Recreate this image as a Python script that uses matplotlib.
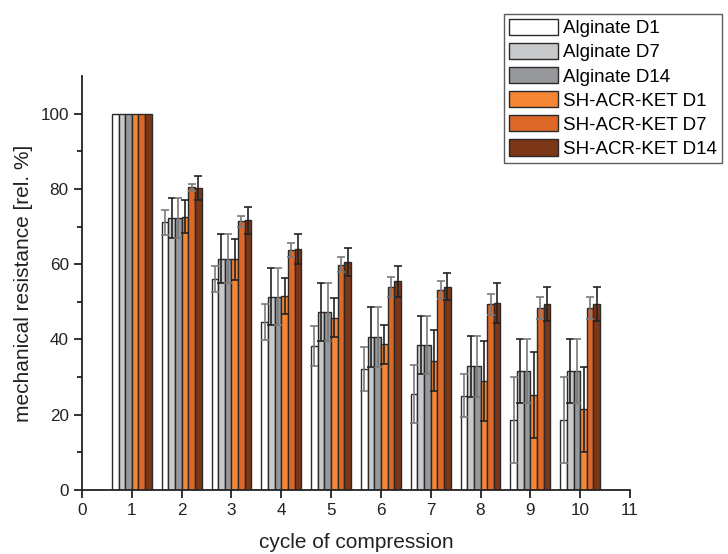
import numpy as np
import matplotlib
matplotlib.use("Agg")
import matplotlib.pyplot as plt

plt.rcParams['font.family'] = ['Liberation Sans', 'DejaVu Sans']

cycles = np.arange(1, 11)
series = ["Alginate D1", "Alginate D7", "Alginate D14",
          "SH-ACR-KET D1", "SH-ACR-KET D7", "SH-ACR-KET D14"]
colors = ["#ffffff", "#c8c9cb", "#97989c", "#f58634", "#dc6828", "#7c3618"]
err_colors = ["#7a7a7a", "#222222", "#7a7a7a", "#222222", "#7a7a7a", "#222222"]

alg_d1 = [100, 71.1, 56.0, 44.6, 38.2, 32.2, 25.5, 25.1, 18.6, 18.6]
alg_d7 = [100, 72.2, 61.5, 51.4, 47.3, 40.6, 38.5, 32.9, 31.6, 31.6]
alg_d14 = [100, 72.2, 61.5, 51.4, 47.3, 40.6, 38.5, 32.9, 31.6, 31.6]
ket_d1 = [100, 72.6, 61.3, 51.6, 45.8, 38.7, 34.3, 29.0, 25.2, 21.4]
ket_d7 = [100, 80.4, 71.4, 63.7, 59.9, 54.0, 53.1, 49.3, 48.4, 48.4]
ket_d14 = [100, 80.2, 71.7, 64.0, 60.6, 55.4, 54.0, 49.7, 49.4, 49.4]

alg_d1_sd = [0, 3.4, 3.5, 4.7, 5.3, 5.8, 7.6, 5.6, 11.4, 11.4]
alg_d7_sd = [0, 5.3, 6.6, 7.5, 7.6, 8.0, 7.7, 8.1, 8.4, 8.4]
alg_d14_sd = [0, 5.3, 6.6, 7.5, 7.6, 8.0, 7.7, 8.1, 8.4, 8.4]
ket_d1_sd = [0, 4.4, 5.5, 4.8, 5.1, 5.2, 8.1, 10.6, 11.5, 11.4]
ket_d7_sd = [0, 1.0, 1.5, 1.9, 1.9, 2.6, 2.4, 2.8, 2.9, 2.9]
ket_d14_sd = [0, 3.1, 3.6, 4.0, 3.7, 4.2, 3.6, 5.2, 4.5, 4.5]

values = [alg_d1, alg_d7, alg_d14, ket_d1, ket_d7, ket_d14]
errors = [alg_d1_sd, alg_d7_sd, alg_d14_sd, ket_d1_sd, ket_d7_sd, ket_d14_sd]

fig = plt.figure(figsize=(7.28, 5.54), dpi=100)
ax = fig.add_axes([82 / 728, 1 - 490 / 554, (630 - 82) / 728, (490 - 76) / 554])

width = 0.8 / 6
handles = []
for i, (lab, v, e, c, ec) in enumerate(zip(series, values, errors, colors, err_colors)):
    x = cycles - 0.4 + width * (i + 0.5)
    b = ax.bar(x, v, width=width, color=c, edgecolor="#2a2a2a", linewidth=1.0,
               label=lab, zorder=2)
    handles.append(b)
    ax.errorbar(x[1:], np.array(v)[1:], yerr=np.array(e)[1:], fmt="none",
                ecolor=ec, elinewidth=1.2, capsize=2.6, capthick=1.2, zorder=3)

ax.set_xlim(0, 11)
ax.set_ylim(0, 110)
ax.set_xticks(range(0, 12))
ax.set_yticks(range(0, 101, 20))
ax.set_yticks([10, 30, 50, 70, 90], minor=True)
ax.spines["top"].set_visible(False)
ax.spines["right"].set_visible(False)
for s in ("left", "bottom"):
    ax.spines[s].set_linewidth(1.3)
    ax.spines[s].set_color("#222222")
ax.tick_params(axis="both", which="major", direction="out", length=6, width=1.3,
               labelsize=12.3, colors="#222222", labelcolor="#222222")
ax.tick_params(axis="y", which="minor", direction="out", length=3.5, width=1.3,
               colors="#222222")
ax.set_xlabel("cycle of compression", fontsize=15, labelpad=11, color="#222222")
ax.set_ylabel("mechanical resistance [rel. %]", fontsize=15, labelpad=5, color="#222222")

leg = fig.legend(handles=handles, labels=series, loc="upper right",
                 bbox_to_anchor=(722 / 728, 1 - 14 / 554), fontsize=13.5,
                 frameon=True, fancybox=False, edgecolor="#333333",
                 handlelength=2.6, handleheight=0.95, labelspacing=0.3,
                 handletextpad=0.3, borderpad=0.25, borderaxespad=0.0)
leg.get_frame().set_linewidth(1.0)

fig.savefig("out.png", dpi=100)
